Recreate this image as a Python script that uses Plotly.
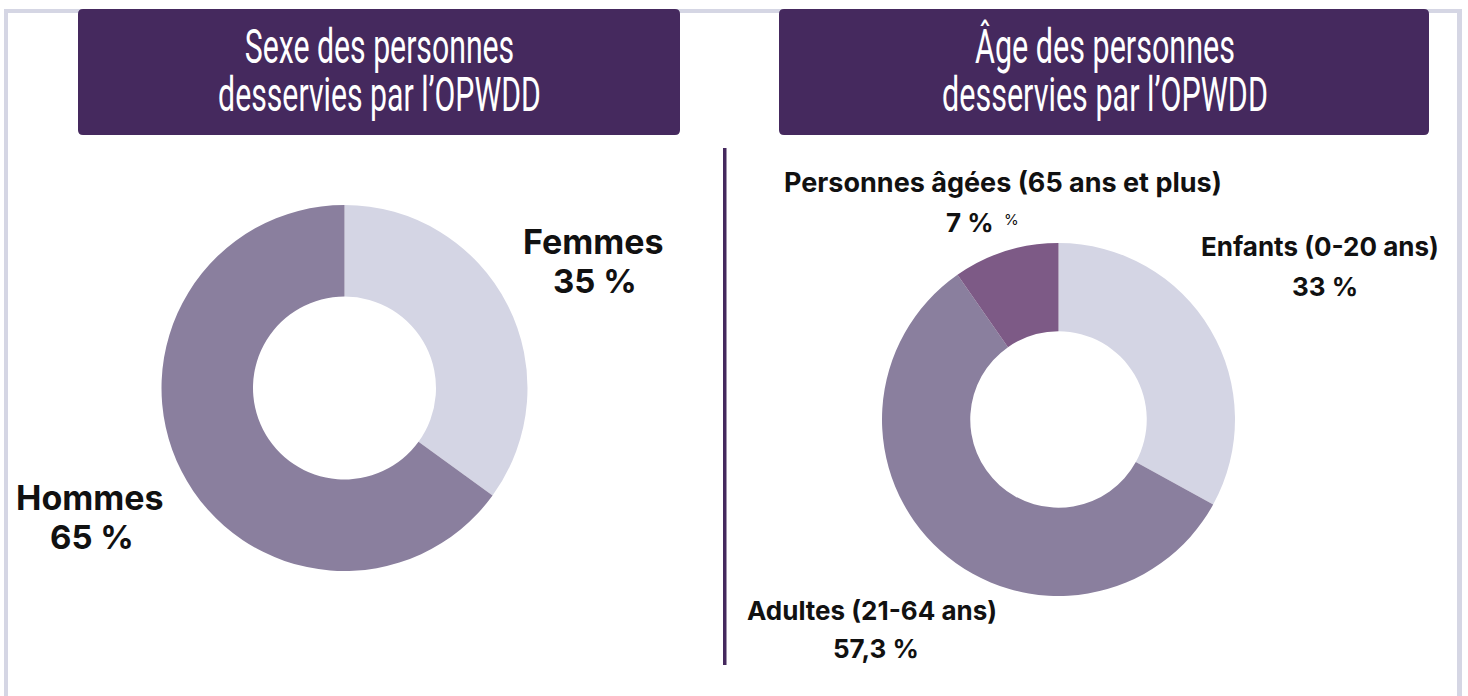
import plotly.graph_objects as go

W, H = 1468, 696

# ---- data ----
sex_labels = ["Femmes", "Hommes"]
sex_values = [35, 65]
age_labels = ["Enfants (0-20 ans)", "Adultes (21-64 ans)", "Personnes âgées (65 ans et plus)"]
age_values = [33, 57.3, 9.7]          # slice sizes as drawn
age_text = ["33 %", "57,3 %", "7 %"]  # printed labels
titles = [["Sexe des personnes", "desservies par l’OPWDD"],
          ["Âge des personnes", "desservies par l’OPWDD"]]

# ---- colours ----
LIGHT = "#D4D5E4"
MID = "#8A7F9E"
DARK = "#7D5A86"
BOX = "#45295E"
FRAME = "#D5D6E4"


def px(x):
    return x / W


def py(y):
    return 1 - y / H


fig = go.Figure()

fig.add_trace(go.Pie(
    labels=sex_labels, values=sex_values, hole=0.5, sort=False,
    direction="clockwise", rotation=0, textinfo="none", hoverinfo="label+percent",
    marker=dict(colors=[LIGHT, MID], line=dict(width=0)),
    domain=dict(x=[px(161.5), px(527.5)], y=[py(571), py(205)]),
    showlegend=False,
))
fig.add_trace(go.Pie(
    labels=age_labels, values=age_values, hole=0.5, sort=False,
    direction="clockwise", rotation=0, textinfo="none", hoverinfo="label+percent",
    marker=dict(colors=[LIGHT, MID, DARK], line=dict(width=0)),
    domain=dict(x=[px(882), px(1235)], y=[py(596), py(243)]),
    showlegend=False,
))


def rounded_path(x0, y0, x1, y1, r):
    X0, X1 = px(x0), px(x1)
    Y0, Y1 = py(y0), py(y1)
    rx, ry = r / W, r / H
    return (f"M {X0+rx} {Y0} L {X1-rx} {Y0} Q {X1} {Y0} {X1} {Y0-ry} "
            f"L {X1} {Y1+ry} Q {X1} {Y1} {X1-rx} {Y1} L {X0+rx} {Y1} "
            f"Q {X0} {Y1} {X0} {Y1+ry} L {X0} {Y0-ry} Q {X0} {Y0} {X0+rx} {Y0} Z")


shapes = [
    # frame
    dict(type="rect", xref="paper", yref="paper", x0=px(4), x1=px(8), y0=py(696), y1=py(9),
         fillcolor=FRAME, line=dict(width=0), layer="below"),
    dict(type="rect", xref="paper", yref="paper", x0=px(4), x1=px(1462), y0=py(13), y1=py(9),
         fillcolor=FRAME, line=dict(width=0), layer="below"),
    dict(type="rect", xref="paper", yref="paper", x0=px(1457), x1=px(1462), y0=py(696), y1=py(9),
         fillcolor=FRAME, line=dict(width=0), layer="below"),
    # title boxes
    dict(type="path", xref="paper", yref="paper", path=rounded_path(78, 9, 680, 135, 5),
         fillcolor=BOX, line=dict(width=0)),
    dict(type="path", xref="paper", yref="paper", path=rounded_path(779, 9, 1429, 135, 5),
         fillcolor=BOX, line=dict(width=0)),
    # divider
    dict(type="rect", xref="paper", yref="paper", x0=px(723), x1=px(726.5), y0=py(665), y1=py(148),
         fillcolor=BOX, line=dict(width=0)),
]

TITLE_FAMILY = "Roboto, Liberation Sans, sans-serif"
LBL = "Inter, Open Sans, sans-serif"

annotations = []


def ann(text, x, y, size, family=LBL, color="#111111", bold=True):
    annotations.append(dict(
        text=f"<b>{text}</b>" if bold else text, x=px(x), y=py(y), xref="paper", yref="paper",
        xanchor="center", yanchor="middle", showarrow=False,
        font=dict(family=family, size=size, color=color)))


# titles (indices 0-1; condensed in the page script below)
ann("<br>".join(titles[0]), 379.5, 72, 38, TITLE_FAMILY, "white", bold=False)
ann("<br>".join(titles[1]), 1105, 72, 38, TITLE_FAMILY, "white", bold=False)

# sex labels
ann(sex_labels[0], 593, 241, 34)
ann(f"{sex_values[0]} %", 595, 281, 33)
ann(sex_labels[1], 90, 497, 34)
ann(f"{sex_values[1]} %", 92, 537, 33)

# age labels
ann(age_labels[2], 1003, 182, 27)
ann(age_text[2], 970, 222, 26)
annotations.append(dict(text="%", x=px(1011), y=py(219), xref="paper", yref="paper",
                        xanchor="center", yanchor="middle", showarrow=False,
                        font=dict(family=LBL, size=15, color="#111111")))
ann(age_labels[0], 1320, 246, 26)
ann(age_text[0], 1325, 286, 26)
ann(age_labels[1], 872, 610, 26)
ann(age_text[1], 876, 648, 26)

fig.update_layout(
    width=W, height=H, margin=dict(l=0, r=0, t=0, b=0),
    paper_bgcolor="white", plot_bgcolor="white",
    shapes=shapes, annotations=annotations, showlegend=False,
)

# remove the page margin and give the title blocks the tall, condensed look of the original
post = """
document.body.style.margin = '0';
var gd = document.getElementById('{plot_id}');
function squeeze() {
  // index: [centre x, baseline of line 1, baseline of line 2, width of widest line, cap-height scale]
  var spec = {0: [379.5, 63, 111, 323, 1.25], 1: [1105, 63, 111, 326, 1.25]};
  Object.keys(spec).forEach(function (k) {
    var s = spec[k];
    var t = gd.querySelector('.annotation[data-index="' + k + '"] text');
    if (!t) return;
    t.removeAttribute('transform');
    var sy = s[4];
    var lines = t.querySelectorAll('tspan.line');
    if (lines.length > 1) lines[1].setAttribute('dy', ((s[2] - s[1]) / sy) + 'px');
    var b = t.getBBox();
    var r = t.getBoundingClientRect();
    var offx = r.left - b.x, offy = r.top - b.y;
    var y1 = parseFloat(t.getAttribute('y')) || 0;
    var sx = s[3] / b.width;
    var cx = b.x + b.width / 2;
    var X = s[0] - offx, Y = s[1] - offy;
    t.setAttribute('transform', 'translate(' + X + ',' + Y + ') scale(' + sx + ',' + sy + ') translate(' + (-cx) + ',' + (-y1) + ')');
  });
}
squeeze();
gd.on('plotly_afterplot', squeeze);
"""

fig.write_html("out.html", post_script=post, config={"displayModeBar": False})
